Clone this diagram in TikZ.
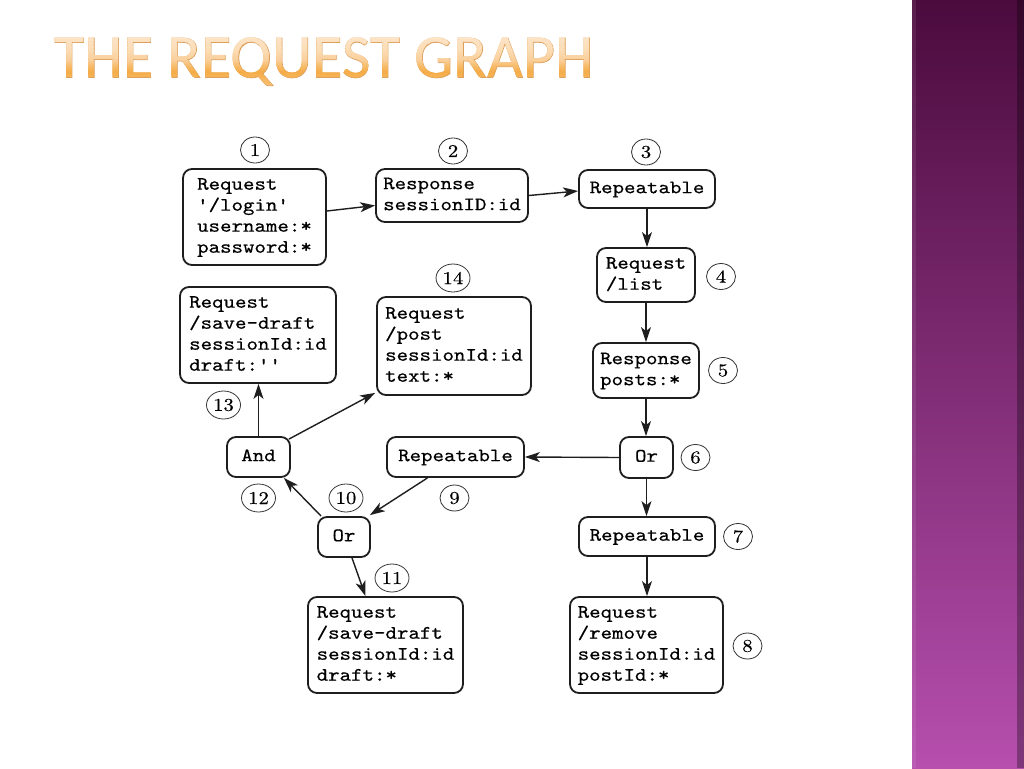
\documentclass[tikz,border=0pt]{standalone}
\usepackage{fontspec}
\newfontfamily\titlefont[LetterSpace=0.6]{Carlito}
\newfontfamily\titlefontbold[FakeBold=1.2,LetterSpace=0.6]{Carlito}
\newfontfamily\boxfont[FakeBold=0.45]{lmmono10-regular.otf}
\newfontfamily\numfont[FakeBold=0.3]{lmroman10-regular.otf}
\usetikzlibrary{arrows.meta,shapes.geometric,calc}
\definecolor{boxline}{HTML}{1E1E1E}
\definecolor{numline}{HTML}{333333}
\definecolor{tA}{HTML}{FDEAD3}
\definecolor{tB}{HTML}{FCDDB6}
\definecolor{tC}{HTML}{FAD09C}
\definecolor{tD}{HTML}{F7BC6C}
\definecolor{tE}{HTML}{F5AC48}
\definecolor{tF}{HTML}{F6B55A}
\definecolor{tG}{HTML}{F8C67E}
\definecolor{titleedge}{HTML}{DDA05C}
\definecolor{bandtop}{HTML}{4B0B3D}
\definecolor{bandbot}{HTML}{B64FAE}
\newcommand{\boxtxt}[1]{\scalebox{1.15}[1]{\begin{tabular}{@{}l@{}}#1\end{tabular}}}
\newcommand{\numtxt}[1]{\scalebox{1.15}[1]{#1}}
\tikzset{
  box/.style={draw=boxline, line width=1.8pt, rounded corners=9pt, fill=white,
    font=\boxfont\fontsize{19}{21}\selectfont, inner sep=0pt},
  num/.style={ellipse, draw=numline, line width=0.8pt, inner sep=0pt, minimum width=29pt,
    minimum height=26pt, font=\numfont\fontsize{18}{18}\selectfont},
  numw/.style={num, minimum width=34pt, minimum height=28pt},
  arr/.style={-{Stealth[length=15pt,width=10pt,inset=4pt]}, line width=1.4pt, draw=boxline},
  ttl/.style={inner sep=0pt, anchor=base west, font=\titlefont\fontsize{61.5}{62}\selectfont}
}
\begin{document}
\begin{tikzpicture}[x=1pt,y=-1pt]
\useasboundingbox (0,0) rectangle (1024,768);
\fill[white] (0,0) rectangle (1024,768);
% side band
\shade[top color=bandtop, bottom color=bandbot] (912,0) rectangle (1024,768);
\fill[white,opacity=0.08] (912,0) rectangle (916,768);
\fill[black,opacity=0.3] (1017,0) rectangle (1024,768);
% title: outline layer, then stepwise gradient fill
\node[ttl, font=\titlefontbold\fontsize{61.5}{62}\selectfont, text=titleedge] (title) at (54,77.5) {THE REQUEST GRAPH};
\foreach \ya/\yb/\ca/\cb in {30/50/tA/tB, 50/60/tB/tC, 60/66/tC/tD, 66/72/tD/tE, 72/78/tE/tF, 78/92/tF/tG}{
  \foreach \k in {0,...,5}{
    \pgfmathsetmacro{\yo}{\ya+(\yb-\ya)*\k/6}
    \pgfmathsetmacro{\yi}{\ya+(\yb-\ya)*(\k+1)/6+0.4}
    \pgfmathtruncatemacro{\pct}{100*(\k+0.5)/6}
    \colorlet{tc}{\cb!\pct!\ca}
    \begin{scope}
      \clip (40,\yo) rectangle (640,\yi);
      \node[ttl, text=tc] at (54,77.5) {THE REQUEST GRAPH};
    \end{scope}
  }
}
% boxes
\node[box, minimum width=143pt, minimum height=96pt] (n1) at (254.5,217) {\boxtxt{Request\\'/login'\\username:*\\password:*}};
\node[box, minimum width=152pt, minimum height=53pt] (n2) at (452,195.5) {\boxtxt{Response\\sessionID:id}};
\node[box, minimum width=136pt, minimum height=38pt] (n3) at (647,189) {\boxtxt{Repeatable}};
\node[box, minimum width=98pt, minimum height=54pt] (n4) at (646,275) {\boxtxt{Request\\/list}};
\node[box, minimum width=106pt, minimum height=55pt] (n5) at (646,370.5) {\boxtxt{Response\\posts:*}};
\node[box, minimum width=53pt, minimum height=41pt] (n6) at (646.5,457.5) {\boxtxt{Or}};
\node[box, minimum width=136pt, minimum height=39pt] (n7) at (647,536.5) {\boxtxt{Repeatable}};
\node[box, minimum width=153pt, minimum height=96pt] (n8) at (646.5,645) {\boxtxt{Request\\/remove\\sessionId:id\\postId:*}};
\node[box, minimum width=137pt, minimum height=40pt] (n9) at (455.5,457) {\boxtxt{Repeatable}};
\node[box, minimum width=52pt, minimum height=40pt] (n10) at (344,537) {\boxtxt{Or}};
\node[box, minimum width=155pt, minimum height=96pt] (n11) at (385.5,645) {\boxtxt{Request\\/save-draft\\sessionId:id\\draft:*}};
\node[box, minimum width=63pt, minimum height=40pt] (n12) at (258.5,457) {\boxtxt{And}};
\node[box, minimum width=156pt, minimum height=96pt] (n13) at (258,335) {\boxtxt{Request\\/save-draft\\sessionId:id\\draft:{'}{'}}};
\node[box, minimum width=154pt, minimum height=98pt] (n14) at (454,346) {\boxtxt{Request\\/post\\sessionId:id\\text:*}};
% numbers
\node[num] (c1) at (255,150) {\numtxt{1}};
\node[num] (c2) at (453,151) {\numtxt{2}};
\node[num] (c3) at (646,152) {\numtxt{3}};
\node[num] (c4) at (721,276.5) {\numtxt{4}};
\node[num] (c5) at (723,370.5) {\numtxt{5}};
\node[num] (c6) at (695.5,457.5) {\numtxt{6}};
\node[num] (c7) at (738,536.5) {\numtxt{7}};
\node[num] (c8) at (747.5,646) {\numtxt{8}};
\node[num] (c9) at (454.5,498) {\numtxt{9}};
\node[numw] (c10) at (346,498) {\numtxt{10}};
\node[numw] (c11) at (392,578) {\numtxt{11}};
\node[numw] (c12) at (258.5,498) {\numtxt{12}};
\node[numw] (c13) at (223.5,405) {\numtxt{13}};
\node[numw] (c14) at (453,278) {\numtxt{14}};
% connectors
\draw[arr] ([yshift=6pt]n1.east) -- ([yshift=-10pt]n2.west);
\draw[arr] (n2.east) -- ([yshift=-2pt]n3.west);
\draw[arr] (n3.south) -- (n3.south |- n4.north);
\draw[arr] (n4.south) -- (n4.south |- n5.north);
\draw[arr] (n5.south) -- (n5.south |- n6.north);
\draw[arr] (n6.west) -- (n9.east);
\draw[arr] (n6.south) -- (n6.south |- n7.north);
\draw[arr] (n7.south) -- (n7.south |- n8.north);
\draw[arr] ([xshift=-28pt]n9.south) -- ([xshift=-1pt,yshift=1pt]n10.north east);
\draw[arr] ([xshift=4pt]n10.north west) -- ([xshift=-7pt]n12.south east);
\draw[arr] ([xshift=8pt]n10.south) -- ([xshift=-20pt]n11.north);
\draw[arr] (n12.north) -- (n12.north |- n13.south);
\draw[arr] ([xshift=-2pt,yshift=-3pt]n12.north east) -- ([xshift=-1pt,yshift=3pt]n14.south west);
\end{tikzpicture}
\end{document}
